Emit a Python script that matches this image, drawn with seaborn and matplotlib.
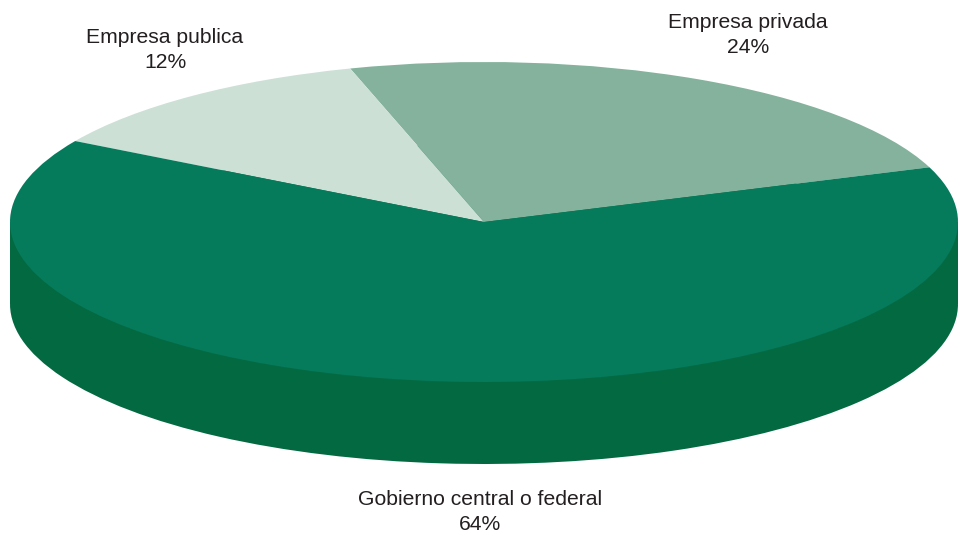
import matplotlib.pyplot as plt
from matplotlib.patches import Rectangle
import seaborn as sns

sns.set_theme(style="white")
plt.rcParams['font.family'] = ['Liberation Sans', 'DejaVu Sans']

sectors = ['Empresa privada', 'Empresa publica', 'Gobierno central o federal']
shares = [24, 12, 64]
top_colors = ['#84b29c', '#cce0d6', '#057b5c']
side_color = '#036941'
text_color = '#231f20'

# ellipse geometry in pixels (959x539 canvas)
cx, cy, rx, ry, depth = 484, 222, 474, 160, 82
W, H = 959, 539


def main():
    fig = plt.figure(figsize=(9.59, 5.39), dpi=100)
    ax = fig.add_axes([0, 0, 1, 1])
    d = depth / ry

    # bottom face + side wall (dark green)
    ax.pie(shares, startangle=20, colors=[side_color] * 3, center=(0, -d),
           radius=1, wedgeprops=dict(linewidth=0))
    ax.add_patch(Rectangle((-1, -d), 2, d, facecolor=side_color,
                           edgecolor='none', zorder=0.5))
    # top face
    ax.pie(shares, startangle=20, colors=top_colors, center=(0, 0),
           radius=1, wedgeprops=dict(linewidth=0, zorder=2))

    ax.set_aspect('auto')
    ax.set_xlim(-cx / rx, (W - cx) / rx)
    ax.set_ylim(-(H - cy) / ry, cy / ry)
    ax.axis('off')

    label_pos = [(748, 35), (165, 50), (480, 512)]
    for name, val, (px, py) in zip(sectors, shares, label_pos):
        fig.text(px / W, 1 - py / H, f"{name}\n{val}%", ha='center',
                 va='center', fontsize=15.2, color=text_color,
                 linespacing=1.35)

    fig.savefig('out.png', dpi=100)


if __name__ == '__main__':
    main()
